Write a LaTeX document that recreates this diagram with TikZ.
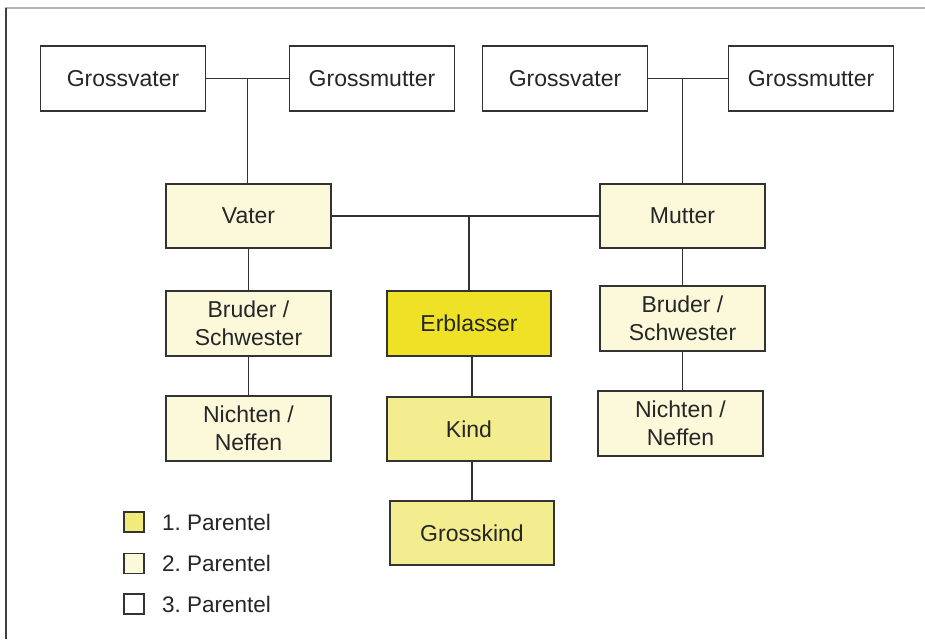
\documentclass[tikz,border=0pt]{standalone}
\usepackage{fontspec}
\setmainfont{Liberation Sans}
\usetikzlibrary{calc}
\definecolor{ponecol}{HTML}{EFE125}
\definecolor{ponelt}{HTML}{F3ED8F}
\definecolor{ptwocol}{HTML}{FCF9DA}
\definecolor{edgecol}{HTML}{333333}
\tikzset{
  box/.style={draw=edgecol, line width=1.3pt, minimum width=165pt, minimum height=65pt,
    inner sep=0pt, font=\fontsize{23}{28.5}\selectfont, align=center, text=black!85},
  gen3/.style={box, fill=white},
  gen2/.style={box, fill=ptwocol},
  gen1/.style={box, fill=ponelt},
  erbl/.style={box, fill=ponecol},
  conn/.style={draw=edgecol, line width=1.2pt},
  legbox/.style={draw=edgecol, line width=1.3pt, minimum size=20pt, inner sep=0pt},
  legtext/.style={anchor=west, inner sep=0pt, font=\fontsize{22.5}{27}\selectfont, text=black!85}
}
\begin{document}
\frenchspacing
\begin{tikzpicture}[x=1pt,y=-1pt]
\useasboundingbox (0,0) rectangle (925,639);
\fill[white] (0,0) rectangle (925,639);
% frame
\draw[draw=black!30, line width=1.2pt] (5,8) -- (925,8);
\draw[draw=black!75, line width=1.5pt] (6,8) -- (6,639);
% grandparents
\node[gen3] (gv1) at (123,78.5) {Grossvater};
\node[gen3] (gm1) at (372,78.5) {Grossmutter};
\node[gen3] (gv2) at (565,78.5) {Grossvater};
\node[gen3] (gm2) at (811,78.5) {Grossmutter};
% parents
\node[gen2, minimum height=64pt] (vater) at (248.5,216) {Vater};
\node[gen2, minimum height=64pt] (mutter) at (682.5,216) {Mutter};
% siblings
\node[gen2] (brl) at (248.5,323.5) {Bruder /\\Schwester};
\node[gen2] (nil) at (248.5,428.5) {Nichten /\\Neffen};
\node[gen2] (brr) at (682.5,318.5) {Bruder /\\Schwester};
\node[gen2] (nir) at (680.5,423.5) {Nichten /\\Neffen};
% line of descent
\node[erbl, minimum width=164pt] (erb) at (469,323.5) {Erblasser};
\node[gen1, minimum width=164pt, minimum height=64pt] (kind) at (469,429) {Kind};
\node[gen1, minimum width=164pt, minimum height=64pt] (gk) at (472,533) {Grosskind};
% connectors
\coordinate (m1) at ($(gv1.east)!0.5!(gm1.west)$);
\draw[conn] (gv1.east) -- (gm1.west);
\draw[conn] (m1) -- (m1 |- vater.north);
\draw[conn] (gv2.east) -- (gm2.west);
\draw[conn] (mutter.north) -- (mutter.north |- gv2.east);
\draw[conn] (vater.east) -- (mutter.west);
\draw[conn] (erb.north) -- (erb.north |- vater.east);
\draw[conn] (vater.south) -- (brl.north);
\draw[conn] (brl.south) -- (nil.north);
\draw[conn] (mutter.south) -- (brr.north);
\draw[conn] (brr.south) -- (brr.south |- nir.north);
\coordinate (d1) at ($(erb.south)+(3,0)$);
\draw[conn] (d1) -- (d1 |- kind.north);
\coordinate (d2) at ($(kind.south)+(3,0)$);
\draw[conn] (d2) -- (d2 |- gk.north);
% legend
\node[legbox, fill=ponelt!80!ponecol] (lb1) at (134,522) {};
\node[legbox, fill=ptwocol] (lb2) at (134,563.5) {};
\node[legbox, fill=white] (lb3) at (134,604) {};
\node[legtext] (lt1) at (162,522) {1. Parentel};
\node[legtext] (lt2) at (162,563.5) {2. Parentel};
\node[legtext] (lt3) at (162,604) {3. Parentel};
\end{tikzpicture}
\end{document}
